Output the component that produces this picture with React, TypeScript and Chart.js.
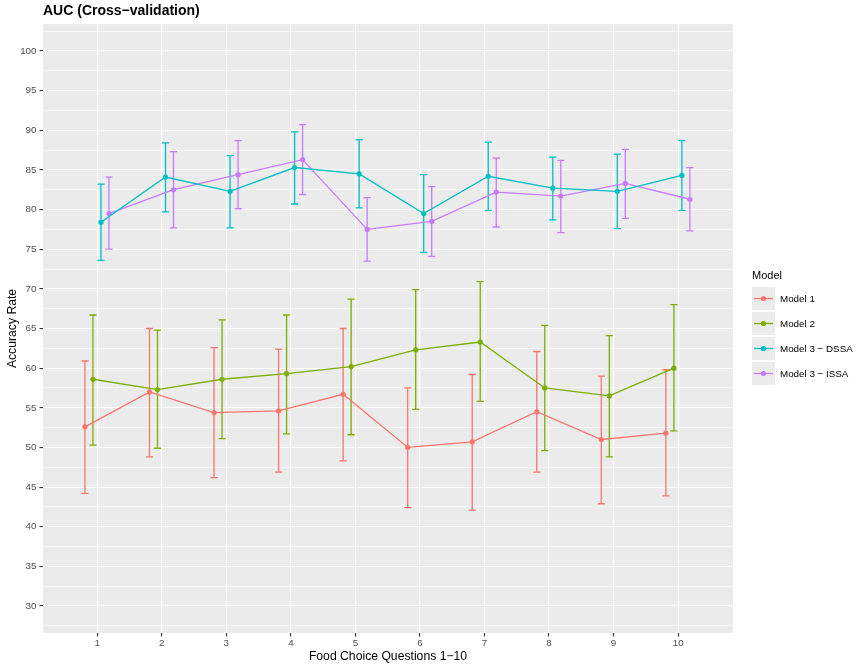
import { useEffect, useRef } from "react";
import { Chart, registerables } from "chart.js";

Chart.register(...registerables);
Chart.defaults.font.family = "'Liberation Sans', Arial, sans-serif";

const questions = [1, 2, 3, 4, 5, 6, 7, 8, 9, 10];
const modelNames = ["Model 1", "Model 2", "Model 3 − DSSA", "Model 3 − ISSA"];
const modelColors = ["#F8766D", "#7CAE00", "#00BFC4", "#C77CFF"];

const model1Mean = [52.6, 57.0, 54.4, 54.6, 56.7, 50.0, 50.7, 54.5, 51.0, 51.8];
const model1Low = [44.2, 48.8, 46.2, 46.9, 48.3, 42.4, 42.1, 46.9, 42.9, 43.9];
const model1High = [60.9, 65.0, 62.6, 62.4, 65.0, 57.5, 59.2, 62.1, 59.0, 59.8];

const model2Mean = [58.6, 57.3, 58.6, 59.3, 60.2, 62.3, 63.3, 57.5, 56.5, 60.0];
const model2Low = [50.3, 49.9, 51.1, 51.7, 51.6, 54.8, 55.8, 49.6, 48.8, 52.1];
const model2High = [66.7, 64.8, 66.1, 66.7, 68.7, 69.9, 70.9, 65.4, 64.1, 68.0];

const dssaMean = [78.4, 84.1, 82.3, 85.3, 84.5, 79.5, 84.2, 82.7, 82.3, 84.3];
const dssaLow = [73.6, 79.7, 77.7, 80.7, 80.2, 74.6, 79.9, 78.7, 77.6, 79.9];
const dssaHigh = [83.2, 88.4, 86.8, 89.8, 88.8, 84.4, 88.5, 86.6, 87.0, 88.7];

const issaMean = [79.5, 82.5, 84.4, 86.3, 77.5, 78.5, 82.2, 81.7, 83.3, 81.3];
const issaLow = [75.0, 77.7, 80.1, 81.9, 73.5, 74.1, 77.8, 77.1, 78.9, 77.3];
const issaHigh = [84.1, 87.3, 88.7, 90.7, 81.5, 82.9, 86.5, 86.2, 87.6, 85.3];

const yTicks = [30, 35, 40, 45, 50, 55, 60, 65, 70, 75, 80, 85, 90, 95, 100];
const yMinorTicks = [27.5, 32.5, 37.5, 42.5, 47.5, 52.5, 57.5, 62.5, 67.5, 72.5, 77.5, 82.5, 87.5, 92.5, 97.5, 102.5];

// dodge offset of each model around the question position
const dodge = [-0.19, -0.066, 0.058, 0.182];

const means = [model1Mean, model2Mean, dssaMean, issaMean];
const lows = [model1Low, model2Low, dssaLow, issaLow];
const highs = [model1High, model2High, dssaHigh, issaHigh];

const FONT = "'Liberation Sans', Arial, sans-serif";
const PANEL = "#EBEBEB";

const panelPlugin = {
  id: "panel",
  beforeDraw(chart: Chart) {
    const { ctx, chartArea } = chart;
    ctx.save();
    ctx.fillStyle = PANEL;
    ctx.fillRect(chartArea.left, chartArea.top, chartArea.right - chartArea.left, chartArea.bottom - chartArea.top);
    ctx.restore();
  }
};

const errorBarPlugin = {
  id: "errorBars",
  beforeDatasetsDraw(chart: Chart) {
    const { ctx } = chart;
    const xs = chart.scales.x;
    const ys = chart.scales.y;
    ctx.save();
    ctx.lineWidth = 1.3;
    for (let k = 0; k < means.length; k++) {
      ctx.strokeStyle = modelColors[k];
      questions.forEach((q, i) => {
        const x = xs.getPixelForValue(q + dodge[k]);
        const y1 = ys.getPixelForValue(lows[k][i]);
        const y2 = ys.getPixelForValue(highs[k][i]);
        ctx.beginPath();
        ctx.moveTo(x, y1);
        ctx.lineTo(x, y2);
        ctx.moveTo(x - 3.6, y1);
        ctx.lineTo(x + 3.6, y1);
        ctx.moveTo(x - 3.6, y2);
        ctx.lineTo(x + 3.6, y2);
        ctx.stroke();
      });
    }
    ctx.restore();
  }
};

const decorPlugin = {
  id: "decor",
  afterDraw(chart: Chart) {
    const { ctx } = chart;
    ctx.save();
    ctx.fillStyle = "#000000";
    ctx.textBaseline = "middle";
    ctx.font = `bold 14px ${FONT}`;
    ctx.fillText("AUC (Cross−validation)", 43, 11);

    ctx.font = `11px ${FONT}`;
    ctx.fillText("Model", 752, 276);
    ctx.font = `9.8px ${FONT}`;
    modelNames.forEach((name, k) => {
      const top = 287 + k * 25;
      ctx.fillStyle = PANEL;
      ctx.fillRect(752, top, 23, 23);
      const cy = top + 11.5;
      ctx.strokeStyle = modelColors[k];
      ctx.lineWidth = 1.3;
      ctx.beginPath();
      ctx.moveTo(754, cy);
      ctx.lineTo(773, cy);
      ctx.stroke();
      ctx.fillStyle = modelColors[k];
      ctx.beginPath();
      ctx.arc(763.5, cy, 2.6, 0, Math.PI * 2);
      ctx.fill();
      ctx.fillStyle = "#000000";
      ctx.fillText(name, 780, cy + 0.5);
    });
    ctx.restore();
  }
};

function AucChart() {
  const canvasRef = useRef<HTMLCanvasElement | null>(null);

  useEffect(() => {
    if (!canvasRef.current) return;
    const ctx = canvasRef.current.getContext("2d");
    if (!ctx) return;

    const isMajor = (v: number) => yTicks.includes(v);

    const chart = new Chart(ctx, {
      type: "line",
      data: {
        datasets: modelNames.map((name, k) => ({
          label: name,
          data: questions.map((q, i) => ({ x: q + dodge[k], y: means[k][i] })),
          borderColor: modelColors[k],
          backgroundColor: modelColors[k],
          borderWidth: 1.3,
          pointRadius: 2.6,
          pointHoverRadius: 2.6,
          pointBorderWidth: 0,
          fill: false,
          tension: 0
        }))
      },
      options: {
        animation: false,
        responsive: true,
        maintainAspectRatio: false,
        layout: { padding: { top: 24, right: 123, left: 0, bottom: 0 } },
        plugins: {
          legend: { display: false },
          tooltip: { enabled: false },
          title: { display: false }
        },
        scales: {
          x: {
            type: "linear",
            min: 0.16,
            max: 10.85,
            afterBuildTicks: (s: any) => {
              s.ticks = questions.map((v) => ({ value: v }));
            },
            afterFit: (s: any) => {
              s.height = 31;
            },
            border: { display: false },
            grid: {
              color: "#FFFFFF",
              lineWidth: 1.1,
              tickColor: "#333333",
              tickWidth: 1.1,
              tickLength: 3.5
            },
            ticks: {
              autoSkip: false,
              maxRotation: 0,
              padding: 0.5,
              color: "#4D4D4D",
              font: { size: 9.8, family: FONT },
              callback: (v: any) => String(v)
            },
            title: {
              display: true,
              text: "Food Choice Questions 1−10",
              color: "#000000",
              font: { size: 12.2, family: FONT },
              padding: { top: 0, bottom: 0 }
            }
          },
          y: {
            type: "linear",
            min: 26.6,
            max: 103.4,
            afterBuildTicks: (s: any) => {
              s.ticks = [...yMinorTicks, ...yTicks].sort((a, b) => a - b).map((v) => ({ value: v }));
            },
            afterFit: (s: any) => {
              s.width = 43;
            },
            border: { display: false },
            grid: {
              color: "#FFFFFF",
              lineWidth: (c: any) => (c.tick && isMajor(c.tick.value) ? 1.1 : 0.55),
              tickColor: (c: any) => (c.tick && isMajor(c.tick.value) ? "#333333" : "rgba(0,0,0,0)"),
              tickWidth: 1.1,
              tickLength: 3.5
            },
            ticks: {
              autoSkip: false,
              padding: 3,
              color: "#4D4D4D",
              font: { size: 9.8, family: FONT },
              callback: (v: any) => (isMajor(Number(v)) ? String(v) : "")
            },
            title: {
              display: true,
              text: "Accuracy Rate",
              color: "#000000",
              font: { size: 12.2, family: FONT },
              padding: { top: 5.5, bottom: 0 }
            }
          }
        }
      },
      plugins: [panelPlugin, errorBarPlugin, decorPlugin]
    });

    return () => chart.destroy();
  }, []);

  return (
    <div style={{ position: "fixed", left: 0, top: 0, width: 856, height: 664, background: "#FFFFFF" }}>
      <canvas ref={canvasRef} />
    </div>
  );
}

export default function App() {
  return <AucChart />;
}
